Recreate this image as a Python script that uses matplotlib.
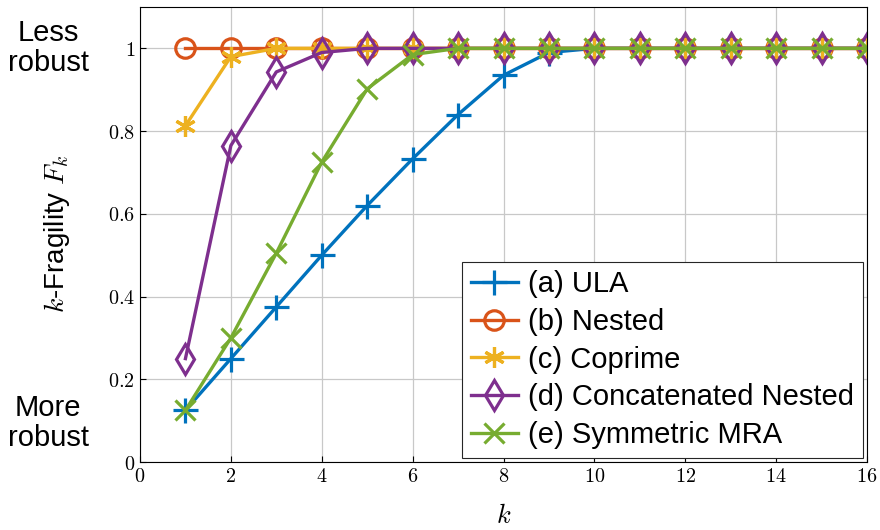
import matplotlib.pyplot as plt
import numpy as np

plt.rcParams['mathtext.fontset'] = 'cm'

k = np.arange(1, 17)
ula = [0.125, 0.25, 0.375, 0.5, 0.62, 0.733, 0.84, 0.935, 0.99, 1, 1, 1, 1, 1, 1, 1]
nested = [1] * 16
coprime = [0.813, 0.98, 1, 1, 1, 1, 1, 1, 1, 1, 1, 1, 1, 1, 1, 1]
concat = [0.25, 0.765, 0.943, 0.99, 1, 1, 1, 1, 1, 1, 1, 1, 1, 1, 1, 1]
symmra = [0.125, 0.30, 0.505, 0.725, 0.902, 0.985, 1, 1, 1, 1, 1, 1, 1, 1, 1, 1]
labels = ['(a) ULA', '(b) Nested', '(c) Coprime', '(d) Concatenated Nested', '(e) Symmetric MRA']
colors = ['#0072BD', '#D95319', '#EDB120', '#7E2F8E', '#77AC30']
markers = ['+', 'o', (6, 2, 0), 'd', 'x']
sizes = [18, 14, 15, 15, 15]

fig = plt.figure(figsize=(8.8, 5.3), dpi=100)
ax = fig.add_axes([140 / 880, 1 - 462 / 530, 727 / 880, 455 / 530])

for y, lab, c, m, ms in zip([ula, nested, coprime, concat, symmra], labels, colors, markers, sizes):
    ax.plot(k, y, color=c, marker=m, ms=ms, mew=2.3, lw=2.4, label=lab,
            fillstyle='none' if m in ('o', 'd') else 'full')

ax.set_xlim(0, 16)
ax.set_ylim(0, 1.1)
ax.set_xticks(range(0, 17, 2))
ax.set_yticks([0, 0.2, 0.4, 0.6, 0.8, 1])
ax.set_xticklabels([f'${v}$' for v in range(0, 17, 2)])
ax.set_yticklabels(['$0$', '$0.2$', '$0.4$', '$0.6$', '$0.8$', '$1$'])
ax.tick_params(direction='in', labelsize=14.5, length=4, top=False, right=False)
ax.grid(True, color='#c8c8c8', lw=0.9)
ax.set_axisbelow(True)
for s in ax.spines.values():
    s.set_linewidth(0.8)

ax.set_xlabel('$k$', fontsize=19, labelpad=12)
fig.text(57 / 880, 1 - 234 / 530, '$k$-Fragility $F_k$', rotation=90, ha='center', va='center',
         fontsize=20, family='Liberation Sans')
fig.text(48 / 880, 1 - 48 / 530, 'Less\nrobust', ha='center', va='center', fontsize=21,
         family='Liberation Sans', linespacing=1.05)
fig.text(48 / 880, 1 - 423 / 530, 'More\nrobust', ha='center', va='center', fontsize=21,
         family='Liberation Sans', linespacing=1.05)

leg = ax.legend(loc='lower right', prop={'family': 'Liberation Sans', 'size': 21},
                fancybox=False, edgecolor='#262626', framealpha=1, handlelength=1.6,
                borderpad=0.3, labelspacing=0.33, handletextpad=0.35, borderaxespad=0.15)
leg.get_frame().set_linewidth(0.8)

fig.savefig('out.png', dpi=100)
